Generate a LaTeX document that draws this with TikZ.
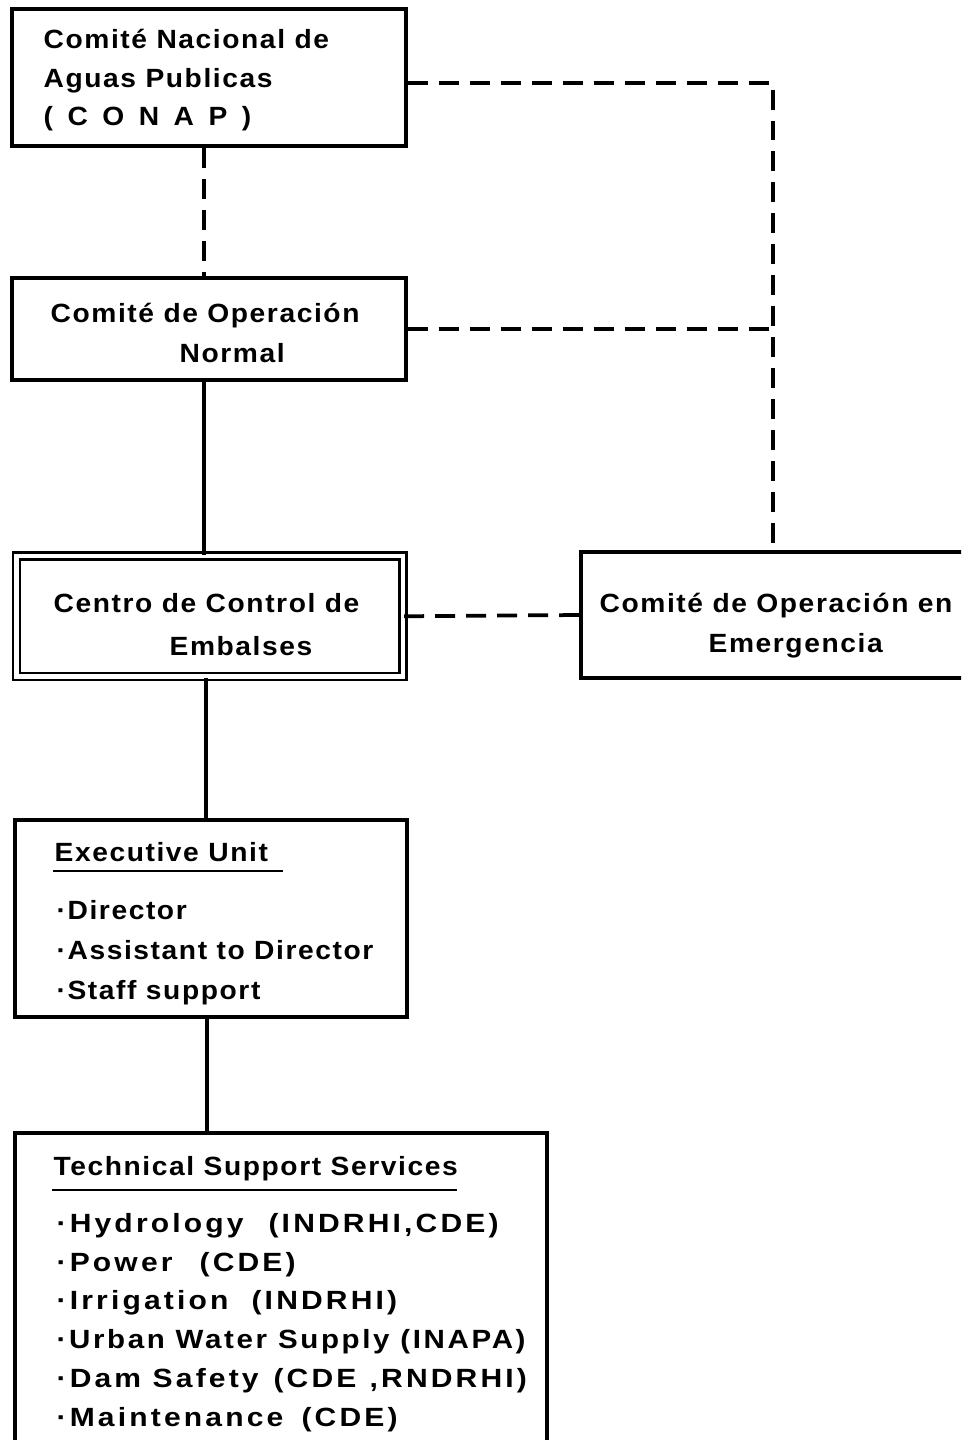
\documentclass[tikz,border=0pt]{standalone}
\usepackage{fontspec}
\setmainfont{Liberation Sans}[FakeStretch=1.07, LetterSpace=6]
\newfontfamily\widefont{Liberation Sans Bold}[FakeStretch=1.14, LetterSpace=12]
\newfontfamily\midfont{Liberation Sans Bold}[FakeStretch=1.12, LetterSpace=10]
\newcommand{\pbox}[2]{\makebox[#1][l]{#2}}
\begin{document}
\begin{tikzpicture}[x=0.02cm, y=-0.02cm, line width=0.065cm,
  box/.style={draw, rectangle, inner sep=0pt, line width=0.065cm},
  dbox/.style={draw, rectangle, inner sep=0pt, double, line width=0.05cm, double distance=0.09cm},
  txt/.style={anchor=base west, inner sep=0pt, font=\fontsize{15}{18}\selectfont\bfseries},
  itm/.style={anchor=base west, inner sep=0pt, font=\fontsize{15}{18}\widefont},
  itmm/.style={anchor=base west, inner sep=0pt, font=\fontsize{15}{18}\midfont},
  dashline/.style={dash pattern=on 0.4cm off 0.22cm, line width=0.075cm},
  solidline/.style={line width=0.065cm}]
\useasboundingbox (0,0) rectangle (961,1440);
\clip (0,0) rectangle (961,1440);

% boxes
\node[box, minimum width=7.88cm, minimum height=2.74cm] (conap) at (209,77.5) {};
\node[box, minimum width=7.88cm, minimum height=2.04cm] (normal) at (209,329) {};
\node[dbox, minimum width=7.73cm, minimum height=2.41cm] (centro) at (209.75,616.25) {};
\node[box, minimum width=7.68cm, minimum height=2.52cm] (emerg) at (773,615) {};
\node[box, minimum width=7.84cm, minimum height=3.94cm] (exec) at (211,918.5) {};
\node[box, minimum width=10.64cm, minimum height=6.26cm] (tech) at (281,1289.5) {};

% texts
\node[txt] (t1) at (42,49) {Comité Nacional de};
\node[txt] (t2) at (42,87) {Aguas Publicas};
\node[txt] (t3) at (42,125) {(\hspace{0.55em}C\hspace{0.55em}O\hspace{0.55em}N\hspace{0.55em}A\hspace{0.55em}P\hspace{0.55em})};

\node[txt] (t4) at (49,322) {Comité de Operación};
\node[txt] (t5) at (178,362) {Normal};

\node[txt] (t6) at (52,612) {Centro de Control de};
\node[txt] (t7) at (168,655) {Embalses};

\node[txt] (t8) at (598,612) {Comité de Operación en};
\node[txt] (t9) at (707,652) {Emergencia};

\node[txt] (t10) at (53,861) {Executive Unit};
\draw[line width=0.055cm] (53,871) -- (283,871);
\node[txt] (t11) at (55,919) {·Director};
\node[txt] (t12) at (55,959) {·Assistant to Director};
\node[txt] (t13) at (55,999) {·Staff support};

\node[txt] (t14) at (52,1175) {Technical Support Services};
\draw[line width=0.055cm] (52,1190) -- (457,1190);
\node[itm] (t15) at (55,1232) {\pbox{4.24cm}{·Hydrology}(INDRHI,CDE)};
\node[itm] (t16) at (55,1271) {\pbox{2.86cm}{·Power}(CDE)};
\node[itm] (t17) at (55,1309) {\pbox{3.9cm}{·Irrigation}(INDRHI)};
\node[itmm] (t18) at (55,1348) {·Urban Water Supply (INAPA)};
\node[itm] (t19) at (55,1387) {\pbox{4.34cm}{·Dam Safety}(CDE\enspace,RNDRHI)};
\node[itm] (t20) at (55,1426) {\pbox{4.9cm}{·Maintenance}(CDE)};

% connectors
\coordinate (v1) at (204,0);
\coordinate (v2) at (206,0);
\coordinate (v3) at (207,0);
\coordinate (r) at (773,83);
\draw[dashline] (v1 |- conap.south) -- (v1 |- normal.north);
\draw[solidline] (v1 |- normal.south) -- (v1 |- centro.north);
\draw[solidline] (v2 |- centro.south) -- (v2 |- exec.north);
\draw[solidline] (v3 |- exec.south) -- (v3 |- tech.north);
\draw[dashline] (conap.east |- r) -- (r) -- (r |- emerg.north);
\draw[dashline] (normal.east) -- (normal.east -| r);
\draw[dashline] (centro.east) -- (emerg.west);
\end{tikzpicture}
\end{document}
